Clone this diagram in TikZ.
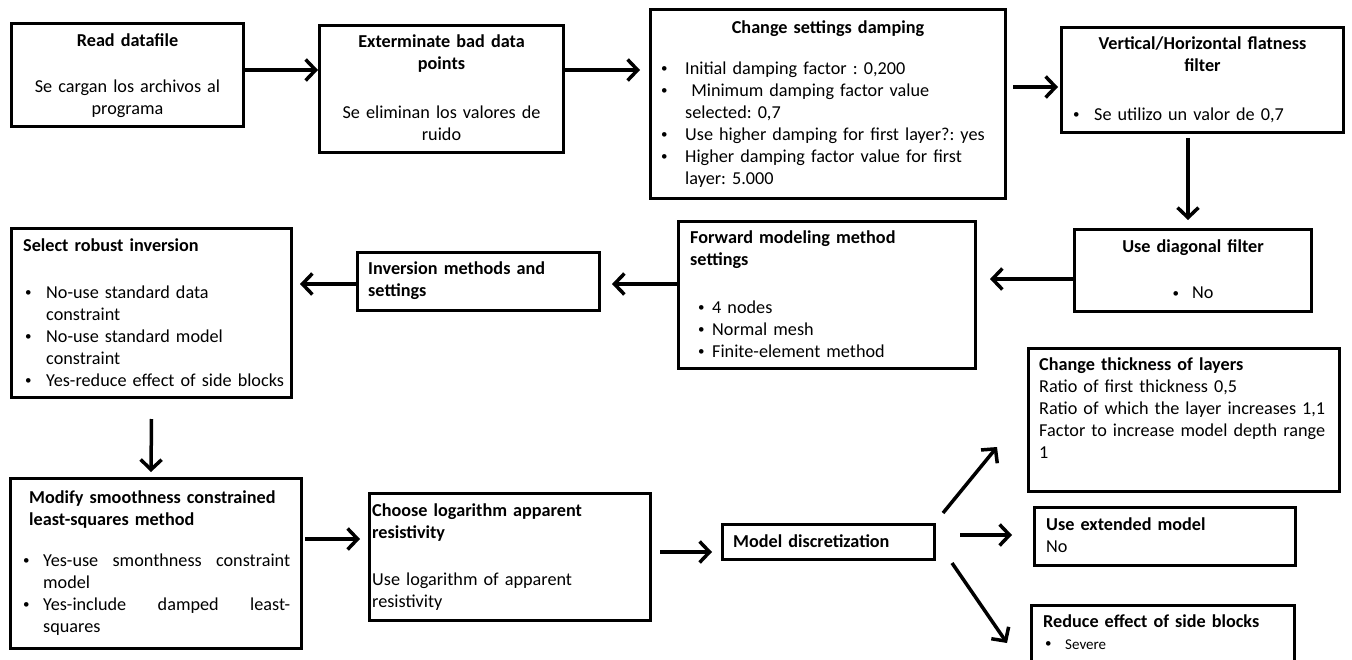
\documentclass[tikz,border=0pt]{standalone}
\usepackage{fontspec}
\setmainfont{Carlito}
\usetikzlibrary{arrows.meta}
\frenchspacing
\newcommand{\bul}{\raisebox{1.6pt}{\fontsize{13pt}{13pt}\selectfont\textbullet}}
\newcommand{\bitem}[2]{\par\noindent\hangindent=#1\hangafter=1\makebox[#1][l]{\hspace*{1pt}\bul}\strut#2\par}
\begin{document}
\begin{tikzpicture}[x=1pt,y=-1pt,
  box/.style={draw,line width=3pt,rectangle,inner sep=0pt},
  f/.style={font=\fontsize{18.2pt}{22pt}\selectfont},
  fb/.style={font=\fontsize{18.2pt}{22pt}\selectfont\bfseries},
  lt/.style={anchor=north west,inner sep=0pt,align=left},
  ct/.style={anchor=north,inner sep=0pt,align=center},
  arr/.style={line width=3.5pt,-{Straight Barb[length=10pt,width=21pt]}}]
\useasboundingbox (0,0) rectangle (1352,659);
\fill[white] (0,0) rectangle (1352,659);
\clip (0,0) rectangle (1352,659);
% boxes
\node[box,minimum width=232,minimum height=103] (b1) at (127.5,75) {};
\node[box,minimum width=244,minimum height=127] (b2) at (441.5,89) {};
\node[box,minimum width=355,minimum height=189] (b3) at (828,104) {};
\node[box,minimum width=282,minimum height=105] (b4) at (1202.5,80) {};
\node[box,minimum width=237,minimum height=82] (b5) at (1193,270.5) {};
\node[box,minimum width=297,minimum height=147] (b6) at (827,295) {};
\node[box,minimum width=242,minimum height=58] (b7) at (478.5,281.5) {};
\node[box,minimum width=280,minimum height=169] (b8) at (151.5,313) {};
\node[box,minimum width=291,minimum height=170] (b9) at (156,563.5) {};
\node[box,minimum width=281,minimum height=127] (b10) at (510,557) {};
\node[box,minimum width=212,minimum height=35] (b11) at (828.5,542) {};
\node[box,minimum width=311,minimum height=143] (b12) at (1184,420) {};
\node[box,minimum width=261,minimum height=58] (b13) at (1165,536.5) {};
\node[box,minimum width=263,minimum height=83] (b14) at (1163,647) {};
% texts
\node[ct,fb,text width=225pt] (t1a) at (127.5,31) {\strut Read datafile};
\node[ct,f,text width=225pt] (t1b) at (127.5,77) {\strut Se cargan los archivos al\\programa};
\node[ct,fb,text width=235pt] (t2a) at (441.5,32) {\strut Exterminate bad data\\points};
\node[ct,f,text width=235pt] (t2b) at (441.5,103) {\strut Se eliminan los valores de\\ruido};
\node[ct,fb,text width=340pt] (t3a) at (828,18) {\strut Change settings damping};
\node[lt,f,text width=335pt] (t3b) at (660,52) {%
\bitem{25pt}{Initial damping factor : 0,200}%
\bitem{25pt}{\ Minimum damping factor value\newline selected: 0,7}%
\bitem{25pt}{Use higher damping for first layer?: yes}%
\bitem{25pt}{Higher damping factor value for first\newline layer: 5.000}};
\node[ct,fb,text width=270pt] (t4a) at (1202.5,34) {\strut Vertical/Horizontal flatness\\filter};
\node[lt,f,text width=260pt] (t4b) at (1072,98) {\bitem{22pt}{Se utilizo un valor de 0,7}};
\node[ct,fb,text width=225pt] (t5a) at (1193,237) {\strut Use diagonal filter};
\node[ct,f,text width=225pt] (t5b) at (1193,283) {\strut\bul\hspace{13pt}No};
\node[lt,fb,text width=280pt] (t6a) at (690,228) {\strut Forward modeling method\\settings};
\node[lt,f,text width=270pt] (t6b) at (697,291) {%
\bitem{15pt}{4 nodes}%
\bitem{15pt}{Normal mesh}%
\bitem{15pt}{Finite-element method}};
\node[lt,fb,text width=230pt] (t7) at (368,259) {\strut Inversion methods and\\settings};
\node[lt,fb,text width=265pt] (t8a) at (23,236) {\strut Select robust inversion};
\node[lt,f,text width=265pt] (t8b) at (24,276) {%
\bitem{22pt}{No-use standard data\newline constraint}%
\bitem{22pt}{No-use standard model\newline constraint}%
\bitem{22pt}{Yes-reduce effect of side blocks}};
\node[lt,fb,text width=275pt] (t9a) at (29,488) {\strut Modify smoothness constrained\\least-squares method};
\node[lt,f,text width=268pt,align=justify] (t9b) at (22,544) {%
\bitem{21pt}{Yes-use smonthness constraint\linebreak model}%
\bitem{21pt}{Yes-include damped least-\linebreak squares}};
\node[lt,fb,text width=270pt] (t10a) at (372,501) {\strut Choose logarithm apparent\\resistivity};
\node[lt,f,text width=270pt] (t10b) at (372,570) {\strut Use logarithm of apparent\\resistivity};
\node[lt,fb,text width=200pt] (t11) at (733,532) {\strut Model discretization};
\node[lt,f,text width=298pt] (t12) at (1039,355) {\strut\textbf{Change thickness of layers}\\Ratio of first thickness 0,5\\Ratio of which the layer increases 1,1\\Factor to increase model depth range\\1};
\node[lt,f,text width=245pt] (t13) at (1046,515) {\strut\textbf{Use extended model}\\No};
\node[lt,fb,text width=250pt] (t14a) at (1043,612) {\strut Reduce effect of side blocks};
\node[lt,font=\fontsize{15pt}{18pt}\selectfont,text width=240pt] (t14b) at (1044,631) {\bitem{21pt}{Severe}};
% arrows
\draw[arr] ([yshift=5pt]b1.east) -- ([yshift=19pt]b2.west);
\draw[arr] ([yshift=19pt]b2.east) -- ([xshift=-9pt,yshift=34pt]b3.west);
\draw[arr] ([xshift=6pt,yshift=17pt]b3.east) -- ([xshift=-2pt,yshift=-7pt]b4.west);
\draw[arr] ([xshift=-14.5pt,yshift=-4pt]b4.south) -- ([xshift=-5pt,yshift=8pt]b5.north);
\draw[arr] ([yshift=-8.5pt]b5.west) -- ([xshift=13pt,yshift=16pt]b6.east);
\draw[arr] ([yshift=11pt]b6.west) -- ([xshift=11pt,yshift=-2.5pt]b7.east);
\draw[arr] ([yshift=-2.5pt]b7.west) -- ([xshift=7pt,yshift=29pt]b8.east);
\draw[arr] ([yshift=-20pt]b8.south) -- ([xshift=-5pt,yshift=5pt]b9.north);
\draw[arr] ([xshift=2pt,yshift=24.5pt]b9.east) -- ([xshift=-8pt,yshift=18pt]b10.west);
\draw[arr] ([xshift=8pt,yshift=5pt]b10.east) -- ([xshift=-9pt,yshift=-10pt]b11.west);
\draw[arr] ([xshift=7pt,yshift=29pt]b11.east) -- ([xshift=-30pt,yshift=46pt]b12.south west);
\draw[arr] ([xshift=24pt,yshift=7pt]b11.east) -- ([xshift=-21pt,yshift=1.5pt]b13.west);
\draw[arr] ([xshift=16pt,yshift=-2pt]b11.south east) -- ([xshift=-23pt,yshift=4pt]b14.west);
\end{tikzpicture}
\end{document}
